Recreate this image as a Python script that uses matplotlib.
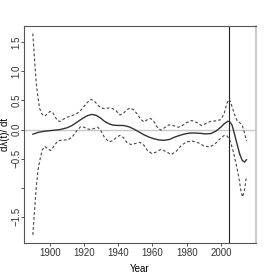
import matplotlib
matplotlib.use("Agg")
import matplotlib.pyplot as plt

plt.rcParams['font.family'] = ['Liberation Sans Narrow', 'Liberation Sans', 'DejaVu Sans']

# estimated derivative (solid)
fit_years = [1890, 1893, 1896.5, 1900, 1903, 1906, 1910, 1913, 1916, 1919, 1922, 1924.5,
             1927, 1929.5, 1932, 1934.5, 1937, 1940, 1943, 1946, 1949, 1952, 1955, 1958,
             1961, 1964, 1967, 1970, 1973, 1976, 1979, 1982, 1985, 1988, 1991, 1994, 1997,
             2000, 2002, 2004, 2005, 2006.5, 2008, 2009.5, 2011, 2012.5, 2013.8, 2015]
fit_vals = [-0.08, -0.05, -0.03, -0.02, -0.01, 0.0, 0.03, 0.07, 0.13, 0.19, 0.24, 0.26,
            0.245, 0.2, 0.14, 0.10, 0.075, 0.07, 0.07, 0.05, 0.01, -0.04, -0.09, -0.13,
            -0.16, -0.18, -0.185, -0.17, -0.13, -0.10, -0.075, -0.06, -0.06, -0.065, -0.075, -0.07, -0.03,
            0.04, 0.10, 0.14, 0.14, 0.08, -0.08, -0.25, -0.42, -0.53, -0.56, -0.52]

# upper band (dashed)
up_years = [1890, 1891, 1892, 1893, 1894, 1895.5, 1897, 1898.5, 1900, 1901.5, 1903, 1904.5,
            1906, 1908, 1910, 1913, 1916, 1918, 1920, 1922, 1924, 1926, 1928, 1930, 1932,
            1934, 1936, 1938.5, 1941, 1943, 1945, 1947, 1949, 1951, 1953, 1955, 1957.5, 1959,
            1961, 1963, 1965, 1967, 1969.5, 1972, 1975, 1977, 1980, 1983, 1986, 1988.5, 1991,
            1994, 1997, 2000, 2002, 2003.5, 2005, 2006.5, 2008, 2009.5, 2011, 2012.5, 2014, 2015]
up_vals = [1.65, 1.2, 0.8, 0.55, 0.36, 0.26, 0.23, 0.27, 0.31, 0.30, 0.22, 0.15,
           0.14, 0.18, 0.21, 0.24, 0.28, 0.33, 0.40, 0.47, 0.52, 0.49, 0.42, 0.37, 0.36,
           0.37, 0.37, 0.33, 0.25, 0.28, 0.34, 0.37, 0.34, 0.27, 0.18, 0.13, 0.18, 0.19,
           0.13, 0.03, -0.01, 0.03, 0.08, 0.07, 0.04, 0.06, 0.12, 0.155, 0.12, 0.07, 0.10,
           0.14, 0.15, 0.17, 0.28, 0.45, 0.52, 0.40, 0.26, 0.15, 0.12, 0.07, -0.07, -0.20]

# lower band (dashed)
lo_years = [1890, 1891, 1892, 1893, 1894.3, 1895.5, 1897, 1899, 1900.5, 1902.5, 1904.5, 1907,
            1909, 1911, 1913, 1915.5, 1918, 1920, 1922, 1924, 1926, 1928, 1930, 1932, 1934.5,
            1937, 1939, 1941, 1943, 1945, 1947.5, 1950, 1952.6, 1955, 1957, 1959.5, 1962, 1965,
            1968, 1971, 1974, 1977, 1980, 1983.5, 1987, 1990, 1993.5, 1996.5, 1999.5, 2002,
            2003.7, 2005.5, 2007.2, 2009, 2010.5, 2011.7, 2012.7, 2013.8, 2015]
lo_vals = [-1.81, -1.4, -1.0, -0.7, -0.5, -0.35, -0.29, -0.34, -0.36, -0.28, -0.20, -0.18,
           -0.18, -0.17, -0.13, -0.03, 0.05, 0.04, 0.01, 0.0, 0.02, 0.04, -0.03, -0.14, -0.21,
           -0.19, -0.13, -0.10, -0.14, -0.22, -0.26, -0.24, -0.22, -0.27, -0.36, -0.41, -0.39, -0.34,
           -0.38, -0.43, -0.37, -0.27, -0.21, -0.20, -0.23, -0.28, -0.30, -0.25, -0.16, -0.10,
           -0.11, -0.20, -0.37, -0.60, -0.82, -1.05, -1.16, -1.05, -0.80]

break_year = 2005
y_ticks = [-1.5, -1.0, -0.5, 0.0, 0.5, 1.0, 1.5]
y_ticklabels = ["\u22121.5", "", "\u22120.5", "0.0", "0.5", "1.0", "1.5"]
x_ticks = [1900, 1920, 1940, 1960, 1980, 2000]

fig = plt.figure(figsize=(2.66, 2.77), dpi=100)
ax = fig.add_axes([0.090, 0.123, 0.872, 0.783])

ax.axhline(0, color='#c8c8c8', lw=1.0, zorder=1)
ax.axvline(break_year, color='#222222', lw=0.8, zorder=2)
ax.plot(up_years, up_vals, color='#444444', lw=0.8, ls=(0, (2.5, 2)), zorder=3)
ax.plot(lo_years, lo_vals, color='#444444', lw=0.8, ls=(0, (2.5, 2)), zorder=3)
ax.plot(fit_years, fit_vals, color='#333333', lw=1.0, zorder=4)

ax.set_xlim(1884.8, 2020.5)
ax.set_ylim(-1.95, 1.78)
ax.set_xticks(x_ticks)
ax.set_yticks(y_ticks)
ax.set_yticklabels(y_ticklabels, rotation=90, va='center', ha='center')
ax.tick_params(axis='both', length=2.0, width=0.6, labelsize=7, colors='#333333')
ax.tick_params(axis='y', pad=3.6)
ax.tick_params(axis='x', pad=1.5)

for side in ['left', 'bottom', 'top']:
    ax.spines[side].set_color('#555555')
    ax.spines[side].set_linewidth(0.8)
ax.spines['right'].set_color('#c0c0c0')
ax.spines['right'].set_linewidth(1.2)

ax.set_xlabel('Year', fontsize=7)
ax.set_ylabel('d\u03bb(t)/ dt', fontsize=7)
ax.xaxis.set_label_coords(0.5, -0.098)
ax.yaxis.set_label_coords(-0.062, 0.5)

fig.savefig('out.png', dpi=100)
